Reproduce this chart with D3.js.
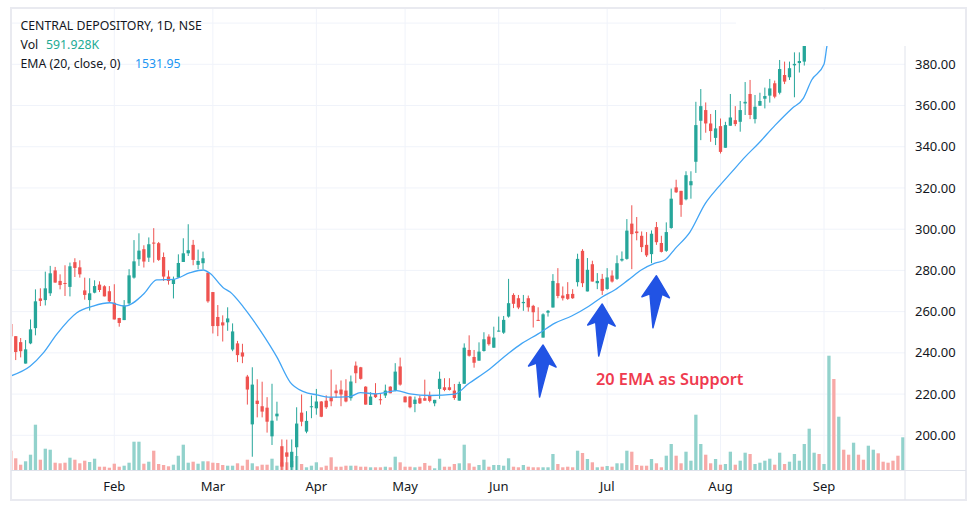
<!DOCTYPE html>
<html><head><meta charset="utf-8">
<script src="https://cdn.jsdelivr.net/npm/d3@7"></script>
<style>html,body{margin:0;padding:0;background:#fff;}svg{display:block;font-family:"Noto Sans",sans-serif;}</style>
</head><body><svg id="c" width="976" height="509"></svg>
<script>
// ---- data ----
const opens = [254,248.1,245.2,234.8,244.6,252,266.4,265.6,268.9,280,274.9,273.9,272,284,281.5,270.3,265.6,269.2,273.1,272.3,
269.9,264.3,256.9,255.9,264,276.5,285.4,290.3,286.2,293.5,293.2,286.5,277,273.4,276.5,284.1,288.3,292.4,282.7,283.5,
278.9,269.5,257.4,254.8,254.8,241.6,244.6,240.2,228.5,205.3,216.8,214.1,213.4,199.5,209.2,194.7,191.7,184.5,194.2,211,
201.8,213.6,213.1,216.4,216.8,218.5,221.7,222.2,221.7,218,233.8,233,223.6,214.7,220.1,217.5,219.3,223.6,221.7,233.4,
218.8,218.8,215.2,218,218,219.3,215.5,222.5,223.3,223.3,221.7,216.8,225,241.4,238,236.2,240.9,247.9,242.5,250.3,
249.8,257.6,268.1,266.5,264.1,266.5,262.8,256,247.4,259.5,262,273.8,267.8,268.5,268.6,274.3,289.5,269.8,283,273.8,
275.9,271,277.5,275.9,284.8,285.6,302.7,298.9,296.8,292.4,287.9,301,293.3,289.5,300.6,320.3,318.6,314.5,321.3,332.7,
352.6,357.8,351.3,344.3,350,339.5,350.2,352.9,352.1,361,365.6,353.4,359.9,363.3,364.8,370.8,366.2,374.8,373.7,379.5,
380.6,381.3];
const highs = [258,248.1,247.2,246.2,256.2,270.8,271.3,279.4,282.2,281.7,278.1,282.5,283.8,285.9,284.9,276.5,276.2,275.2,274.7,272.8,
272.4,273.3,257,265.6,280.6,294.7,298,292.2,296,300.5,293.8,288.7,280,277,287.8,295.6,302.4,294.8,290.1,289.1,
278.9,269.5,263.2,258.2,262.1,254.3,245.8,244.4,229.3,233,227.2,226,218.5,225,216.3,198,197.9,198,213.6,219.8,
211.7,219.3,222.5,216.6,219.4,231.9,224.6,226.6,227.2,229,235.8,233.2,223.8,220.9,225.3,220.4,224.6,223.8,235,237.7,
219,219,218.8,219.3,227,221.2,217.2,230.9,227.7,227.7,224.9,226,244.6,248.5,241.4,245.1,250,249,252.7,257.6,
257.9,275.9,268.9,268.1,268.1,267.8,263.3,262.1,259.2,260.8,278.2,281.1,272.2,274.3,270.9,288.1,290.3,286,284.7,278.7,
278.3,281.1,280,287.3,289.2,304.9,311.6,305.9,298.9,298.6,299.4,303.5,296.8,303.3,319.7,324,318.6,328.1,328.1,361.8,
368,361.5,355.9,357.8,353.7,352.1,365.6,359.7,362.2,371.4,372.4,365.1,366.2,368.7,372.9,372.1,382.1,381.3,381.3,385.8,
385.8,395];
const lows = [243,236.5,237.8,234.8,244.2,248.5,262.7,263,267.6,274,270.8,267.6,267.4,276.8,276.5,265.8,260.5,268.9,269.5,267.4,
264.3,256.2,252.7,255.9,263.5,276,282.2,281.4,284.1,283.8,284.6,274.9,273.1,266.4,276.5,284.1,287,282.5,280.6,280.6,
264.3,249.4,248.1,245.5,250.7,240.8,235.5,235,214.9,189.6,208.7,208.7,201.3,195.3,207.1,182.8,182.8,182.8,183,204.4,
201,208.3,210,208.8,212.8,214.1,218.1,214.1,216,216.8,225.3,227,214.9,214.7,218.1,214.9,218.1,220.4,221.4,224.1,
216,213.1,211.2,215.2,216.8,216,214.1,217.7,221.4,221.7,217.2,216.8,225,238.2,232.8,236.2,240.6,243.5,242.5,250.3,
249.2,257.1,261.7,261.2,260.4,260,252.3,255.5,247.4,257.6,262,266.5,265.4,265.7,266.2,272.2,271.9,269.8,274.6,270.9,
268.1,270.6,274.1,275.4,284.3,285.2,280.6,294.6,288.9,286.5,283.5,292.4,288.7,289,300.2,317.6,306,314,314.8,327.3,
343.2,346.8,342.4,340.8,336.7,339.5,350.2,350,347.3,355.4,353.4,351.3,359.9,358.6,361.4,363.5,365.4,370.4,372.4,364,
376,379.4];
const closes = [248,240.4,240.8,241.7,251.4,265,265.2,271.3,278.6,274.1,272.9,273.6,282,281.2,278.1,268.1,268.9,272.4,270.5,267.4,
265,256.2,254.5,263,277.6,284.4,289.6,284.3,292.7,293,285.1,277,274.9,275.7,283.6,288.3,289.8,285.1,284.6,285.9,
265,253,253,253.3,256.7,250.4,238.9,238.2,222.2,224.6,215.2,211.5,206.6,207.1,210.5,184.8,189.6,192,205.7,206.6,
207,214.1,216.4,209,213.6,216.5,220.4,219.8,216.4,226.1,230.1,227.4,214.9,218.8,218.5,217.2,221.7,220.4,230.9,224.6,
216,213.6,217.3,215.5,216.8,216.7,217.2,227.4,222,222,218.1,224.9,242.5,238.6,235.2,240.6,246.6,244.2,247.4,250.8,
256,264.1,263.8,262,264.7,262.1,259.7,255.5,258.7,260.4,274.9,267.6,266.5,266.2,266.5,285.6,273.8,280.3,274.6,274.9,
270.1,276.6,274.6,283.5,285.6,299.3,297.6,298.1,291.3,287.3,297.8,293.7,289,298.6,314.8,317.9,311.8,326.2,323.3,350.5,
359.7,351.3,347.6,348.9,337.5,350.5,354.2,351,357.8,361.8,355.4,359.4,362.2,364.6,368.3,364.3,377.7,371.6,378.1,380.2,
381.6,392];
// volume in thousands of shares, one per trading day (candles after index 161 are above the visible price range)
const volumes = [386,234,106,174,306,906,206,426,406,146,134,146,246,206,134,186,160,226,66,66,
46,126,66,86,146,566,566,126,166,386,120,100,74,106,286,506,146,166,126,174,
174,146,140,100,86,86,134,86,206,134,74,106,106,226,86,154,154,180,280,120,
54,86,154,54,86,254,66,66,86,86,86,66,66,54,54,54,66,54,266,154,
66,66,54,66,140,86,34,226,66,66,120,134,506,134,66,100,206,66,100,100,
86,234,66,54,100,66,54,54,54,54,320,120,54,66,54,386,340,220,154,54,
66,80,66,134,134,386,366,100,86,86,220,134,54,286,520,286,134,366,186,1106,
520,306,134,220,106,120,366,106,186,346,320,120,146,186,226,106,346,120,166,320,
186,520,826,346,320,120,2286,1820,1066,406,306,546,306,206,486,406,334,166,146,186,286,654];
// up(1)/down(0) flags for the days whose candles lie above the visible price range
const hiddenUp = [1,1,0,1,1,0,1,0,0,1,0,0,1,1,0,0,0,0,0,1];
// 20-period EMA as drawn on the chart (bar index, value)
const emaIdx = [0.2,3.9,6.6,9.3,13.4,16.7,20.1,22.2,23.2,26.9,29.6,33,36.4,39.1,40.4,43.1,44.5,47.2,50.6,54,
56.7,59.4,62.1,64.8,68.8,70.9,74.2,78.3,81,85.1,90.1,92.8,96.9,101,103.7,107,110.4,113.8,117.2,119.9,
122.6,125.3,128,130.7,132.8,134.8,137.8,140.9,143.6,146.3,149,151.7,155.1,158.5,160.8,162.5,165,165.6,166.2];
const emaVal = [229,233.5,240,249,259.5,262.7,264.3,263,262.7,268.4,275.4,275.7,278.9,280.2,278.6,271.6,269.5,262.2,250.9,237.9,
225.7,221.2,219.6,218.5,218.8,220.7,220.1,221.7,220.1,219.3,220,224.9,231.7,239.8,244.6,249.2,254.4,257.9,262.5,267,
270.6,275.4,280.3,283.5,285.2,290.6,298.6,312.4,320.5,327.8,335.1,341.6,350.5,358.6,363.5,372.4,380,388.9,396];
const monthLabels = ["Feb","Mar","Apr","May","Jun","Jul","Aug","Sep"];
const monthIdx = [21,41,62,80,99,121,144,165];
const priceTicks = [200,220,240,260,280,300,320,340,360,380];
const gridPrices = [200,220,240,260,280,300,320,340,360,380,400];
// annotation arrows: bar index and price of the arrow tip
const arrowIdx = [108,120,131];
const arrowPrice = [243.8,263.7,277.4];

// ---- drawing ----
const svg = d3.select("#c");
const W = 976, H = 509;
const L = 11, R = 905, T = 9, B = 470, RR = 966, BB = 500;

const x = d3.scaleLinear().domain([21, 165]).range([114.3, 824]);
const y = d3.scaleLinear().domain([200, 380]).range([435.3, 64.3]);
const maxVol = d3.max(volumes);
const v = d3.scaleLinear().domain([0, maxVol]).range([B, B - 114.3]);

const up = "#26a69a", down = "#ef5350";
const upV = "#92d2cc", downV = "#f7a9a7";

svg.append("rect").attr("width", W).attr("height", H).attr("fill", "#fff");

const defs = svg.append("defs");
defs.append("clipPath").attr("id", "plot").append("rect")
  .attr("x", L + 1).attr("y", T).attr("width", R - L - 1).attr("height", B - T);

// grid
const grid = svg.append("g").attr("clip-path", "url(#plot)");
grid.selectAll("line.h").data(gridPrices).join("line")
  .attr("x1", L).attr("x2", R).attr("y1", d => y(d)).attr("y2", d => y(d))
  .attr("stroke", "#f0f3fa").attr("stroke-width", 1);
grid.selectAll("line.v").data(monthIdx).join("line")
  .attr("x1", d => x(d)).attr("x2", d => x(d)).attr("y1", T).attr("y2", B)
  .attr("stroke", "#f0f3fa").attr("stroke-width", 1);

const plot = svg.append("g").attr("clip-path", "url(#plot)");

// volume
const volUp = volumes.map((d, i) => i < closes.length ? closes[i] >= opens[i] : hiddenUp[i - closes.length] === 1);
const bw = 3.3;
plot.append("g").selectAll("rect").data(volumes).join("rect")
  .attr("x", (d, i) => x(i) - bw / 2).attr("width", bw)
  .attr("y", d => v(d)).attr("height", d => B - v(d))
  .attr("fill", (d, i) => volUp[i] ? upV : downV);

// candles
const idx = d3.range(closes.length);
const cg = plot.append("g");
cg.selectAll("line").data(idx).join("line")
  .attr("x1", i => x(i)).attr("x2", i => x(i))
  .attr("y1", i => y(highs[i])).attr("y2", i => y(lows[i]))
  .attr("stroke", i => closes[i] >= opens[i] ? up : down).attr("stroke-width", 1);
cg.selectAll("rect").data(idx).join("rect")
  .attr("x", i => x(i) - bw / 2).attr("width", bw)
  .attr("y", i => y(Math.max(opens[i], closes[i])))
  .attr("height", i => Math.max(1, Math.abs(y(opens[i]) - y(closes[i]))))
  .attr("fill", i => closes[i] >= opens[i] ? up : down);

// EMA
const emaPts = emaIdx.map((d, k) => [d, emaVal[k]]);
plot.append("path").datum(emaPts)
  .attr("d", d3.line().x(d => x(d[0])).y(d => y(d[1])).curve(d3.curveMonotoneX))
  .attr("fill", "none").attr("stroke", "#42a5f5").attr("stroke-width", 1.3);

// blank patch at the top right (as in the reference)
svg.append("rect").attr("x", 736).attr("y", T + 1).attr("width", RR - 736 - 1).attr("height", 46 - T - 1).attr("fill", "#fff");

// frame and axis separators
svg.append("rect").attr("x", L).attr("y", 8).attr("width", RR - L).attr("height", BB - 8)
  .attr("fill", "none").attr("stroke", "#e9eaf0").attr("stroke-width", 2);
svg.append("line").attr("x1", R).attr("x2", R).attr("y1", 46).attr("y2", BB)
  .attr("stroke", "#e0e3eb").attr("stroke-width", 1);
svg.append("line").attr("x1", L).attr("x2", RR).attr("y1", B + 0.5).attr("y2", B + 0.5)
  .attr("stroke", "#e0e3eb").attr("stroke-width", 1);

// price axis labels
svg.append("g").selectAll("text").data(priceTicks).join("text")
  .attr("x", 915).attr("y", d => y(d)).attr("dy", "0.35em")
  .attr("font-size", 13).attr("fill", "#131722")
  .text(d => d3.format(".2f")(d));

// month labels
svg.append("g").selectAll("text").data(monthLabels).join("text")
  .attr("x", (d, i) => x(monthIdx[i])).attr("y", 486).attr("dy", "0.35em")
  .attr("text-anchor", "middle").attr("font-size", 13).attr("fill", "#131722")
  .text(d => d);

// legend
const lg = svg.append("g").attr("font-size", 12.3).attr("fill", "#131722");
lg.append("text").attr("x", 20.5).attr("y", 30).text("CENTRAL DEPOSITORY, 1D, NSE");
lg.append("text").attr("x", 20.5).attr("y", 48.7).text("Vol");
lg.append("text").attr("x", 46).attr("y", 48.7).attr("fill", "#22ab94").text("591.928K");
lg.append("text").attr("x", 20.5).attr("y", 67.5).text("EMA (20, close, 0)");
lg.append("text").attr("x", 135).attr("y", 67.5).attr("fill", "#2196f3").text("1531.95");

// arrows
const arrowShape = [[0,0],[13,22],[5.5,18.5],[-3.5,52],[-6.5,18],[-14.5,21]];
svg.append("g").selectAll("path").data(arrowIdx).join("path")
  .attr("d", (d, k) => {
    const tx = x(d), ty = y(arrowPrice[k]);
    return "M" + arrowShape.map(p => (tx + p[0]) + "," + (ty + p[1])).join("L") + "Z";
  })
  .attr("fill", "#2153e4").attr("stroke", "#2153e4").attr("stroke-width", 1.5).attr("stroke-linejoin", "round");

svg.append("text").attr("x", 596).attr("y", 385).attr("font-size", 16.3)
  .attr("font-weight", 600).attr("fill", "#ef3b4f").text("20 EMA as Support");
</script>
</body></html>
